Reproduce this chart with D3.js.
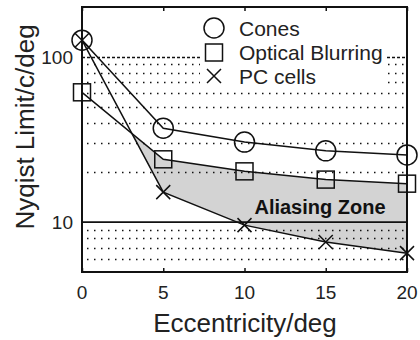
<!DOCTYPE html>
<html>
<head>
<meta charset="utf-8">
<script src="https://cdn.jsdelivr.net/npm/d3@7"></script>
<style>
  html, body { margin: 0; padding: 0; background: #fff; }
  svg { display: block; font-family: "Liberation Sans", Arial, Helvetica, sans-serif; }
</style>
</head>
<body>
<svg id="chart" width="420" height="340"></svg>
<script>
// Nyquist limits (cycles/deg) versus retinal eccentricity (deg)
const eccentricity = [0, 5, 10, 15, 20];
const cones = [126, 37, 30.5, 27, 25.5];
const opticalBlurring = [61, 24, 20.3, 18.1, 17.1];
const pcCells = [126, 15.2, 9.6, 7.6, 6.5];

const xTicks = [0, 5, 10, 15, 20];
const yTickLabels = [10, 100];
const minorGrid = [6, 7, 8, 9, 20, 30, 40, 50, 60, 70, 80, 90];

const seriesNames = ["Cones", "Optical Blurring", "PC cells"];

const svg = d3.select("#chart");
const plotLeft = 82, plotRight = 407, plotTop = 7, plotBottom = 272;

const x = d3.scaleLinear().domain([0, 20]).range([plotLeft, plotRight]);
const y = d3.scaleLog().domain([5, 200]).range([plotBottom, plotTop]);

// --- aliasing zone: region where PC cells fall below optical blurring ---
function crossing() {
  const l = Math.log;
  const d0 = l(pcCells[0]) - l(opticalBlurring[0]);
  const d1 = l(pcCells[1]) - l(opticalBlurring[1]);
  const t = d0 / (d0 - d1);
  const ex = eccentricity[0] + t * (eccentricity[1] - eccentricity[0]);
  const v = Math.exp(l(opticalBlurring[0]) + t * (l(opticalBlurring[1]) - l(opticalBlurring[0])));
  return [ex, v];
}
const cross = crossing();
const zone = [cross];
for (let i = 1; i < eccentricity.length; i++) zone.push([eccentricity[i], opticalBlurring[i]]);
for (let i = eccentricity.length - 1; i >= 1; i--) zone.push([eccentricity[i], pcCells[i]]);

svg.append("path")
  .attr("d", d3.line().x(d => x(d[0])).y(d => y(d[1]))(zone) + "Z")
  .attr("fill", "#d3d3d3")
  .attr("stroke", "none");

// --- grid ---
const grid = svg.append("g");
grid.selectAll("line.minor").data(minorGrid).join("line")
  .attr("class", "minor")
  .attr("x1", plotLeft + 5).attr("x2", plotRight)
  .attr("y1", d => Math.round(y(d)) + 0.5).attr("y2", d => Math.round(y(d)) + 0.5)
  .attr("stroke", "#111").attr("stroke-width", 1.5)
  .attr("stroke-dasharray", "1.5,5.5");

grid.append("line")
  .attr("x1", plotLeft).attr("x2", plotRight)
  .attr("y1", Math.round(y(100)) + 0.5).attr("y2", Math.round(y(100)) + 0.5)
  .attr("stroke", "#111").attr("stroke-width", 1.3)
  .attr("stroke-dasharray", "3,2");

grid.append("line")
  .attr("x1", plotLeft).attr("x2", plotRight)
  .attr("y1", y(10)).attr("y2", y(10))
  .attr("stroke", "#111").attr("stroke-width", 1.8);

// --- legend background ---
svg.append("rect")
  .attr("x", 200).attr("y", 11).attr("width", 185).attr("height", 77)
  .attr("fill", "#fff");

// --- axes box and ticks ---
const axisG = svg.append("g");
axisG.append("rect")
  .attr("x", plotLeft).attr("y", plotTop)
  .attr("width", plotRight - plotLeft).attr("height", plotBottom - plotTop)
  .attr("fill", "none").attr("stroke", "#111").attr("stroke-width", 2);

const xAxisBottom = d3.axisBottom(x).tickValues(xTicks).tickSize(-4).tickFormat("");
const xAxisTop = d3.axisTop(x).tickValues(xTicks).tickSize(-4).tickFormat("");
axisG.append("g").attr("transform", `translate(0,${plotBottom})`).call(xAxisBottom)
  .call(g => g.select(".domain").remove())
  .call(g => g.selectAll("line").attr("stroke", "#111").attr("stroke-width", 1.5));
axisG.append("g").attr("transform", `translate(0,${plotTop})`).call(xAxisTop)
  .call(g => g.select(".domain").remove())
  .call(g => g.selectAll("line").attr("stroke", "#111").attr("stroke-width", 1.5));

// tick labels
svg.append("g").selectAll("text").data(xTicks).join("text")
  .attr("x", d => x(d)).attr("y", 299)
  .attr("text-anchor", "middle")
  .attr("font-size", 19).attr("fill", "#222")
  .text(d => d);

svg.append("g").selectAll("text").data(yTickLabels).join("text")
  .attr("x", 73).attr("y", d => y(d) + 7)
  .attr("text-anchor", "end")
  .attr("font-size", 19).attr("fill", "#222")
  .text(d => d);

// axis titles
svg.append("text")
  .attr("x", 245).attr("y", 332)
  .attr("text-anchor", "middle")
  .attr("font-size", 26).attr("fill", "#222")
  .text("Eccentricity/deg");

svg.append("text")
  .attr("transform", "translate(34,127) rotate(-90)")
  .attr("text-anchor", "middle")
  .attr("font-size", 26).attr("fill", "#222")
  .text("Nyqist Limit/c/deg");

// --- series ---
const line = d3.line().x((d, i) => x(eccentricity[i])).y(d => y(d));
const seriesData = [cones, opticalBlurring, pcCells];
const markerTypes = ["circle", "square", "cross"];

function drawMarker(g, type, cx, cy) {
  if (type === "circle") {
    g.append("circle").attr("cx", cx).attr("cy", cy).attr("r", 10)
      .attr("fill", "none").attr("stroke", "#111").attr("stroke-width", 1.5);
  } else if (type === "square") {
    g.append("rect").attr("x", cx - 8.5).attr("y", cy - 8.5).attr("width", 17).attr("height", 17)
      .attr("fill", "none").attr("stroke", "#111").attr("stroke-width", 1.5);
  } else {
    const s = 7;
    g.append("path")
      .attr("d", `M${cx - s},${cy - s}L${cx + s},${cy + s}M${cx - s},${cy + s}L${cx + s},${cy - s}`)
      .attr("fill", "none").attr("stroke", "#111").attr("stroke-width", 1.5);
  }
}

const seriesG = svg.append("g");
seriesData.forEach((vals, k) => {
  seriesG.append("path")
    .attr("d", line(vals))
    .attr("fill", "none").attr("stroke", "#111").attr("stroke-width", 1.5);
  vals.forEach((v, i) => drawMarker(seriesG, markerTypes[k], x(eccentricity[i]), y(v)));
});

// zone label
svg.append("text")
  .attr("x", 320).attr("y", 214)
  .attr("text-anchor", "middle")
  .attr("font-size", 20).attr("font-weight", "bold").attr("fill", "#111")
  .text("Aliasing Zone");

// --- legend ---
const legendG = svg.append("g");
const legendRows = [28, 52.5, 76];
seriesNames.forEach((name, k) => {
  drawMarker(legendG, markerTypes[k], 214, legendRows[k]);
  legendG.append("text")
    .attr("x", 239).attr("y", legendRows[k] + 7.5)
    .attr("font-size", 21).attr("fill", "#222")
    .text(name);
});
</script>
</body>
</html>
